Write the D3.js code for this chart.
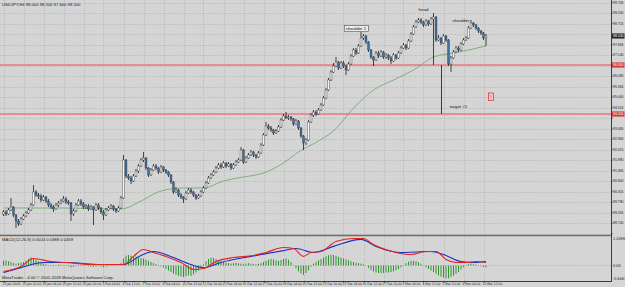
<!DOCTYPE html>
<html><head><meta charset="utf-8">
<script src="https://cdn.jsdelivr.net/npm/d3@7"></script>
<style>
html,body{margin:0;padding:0;background:#d5d5d5;overflow:hidden;}
svg{display:block;}
text{font-family:"Liberation Sans","DejaVu Sans",sans-serif;}
.narrow{font-family:"Liberation Sans Narrow","DejaVu Sans Condensed","Liberation Sans",sans-serif;}
</style></head><body>
<svg id="c" width="625" height="287"></svg>
<script>
// ---------------- DATA ----------------
const symbolTitle = "USDJPY,H4";
const closes = [
 89.30,89.20,89.40,89.55,89.15,88.85,88.70,88.95,89.10,89.25,
 89.40,89.65,90.30,90.15,90.10,89.90,90.05,89.85,89.65,89.55,
 89.45,89.65,89.75,89.85,89.95,89.80,89.75,89.20,89.35,89.65,
 89.85,89.70,89.55,89.60,89.45,89.55,89.40,89.65,89.50,89.30,
 89.15,89.40,89.50,89.60,89.45,89.35,89.50,90.00,91.90,91.10,
 91.00,90.85,91.10,91.35,91.60,91.90,92.00,91.50,91.15,91.40,
 91.60,91.50,91.30,91.55,91.40,91.30,91.15,90.80,90.30,90.40,
 90.15,90.05,89.95,90.25,90.40,90.30,90.15,90.00,90.10,90.30,
 90.50,90.75,91.00,91.15,91.30,91.50,91.65,91.55,91.75,91.60,
 91.70,91.50,91.65,91.80,91.90,92.40,91.80,92.00,92.15,92.30,
 92.15,92.05,92.25,92.65,93.15,93.60,93.50,93.40,93.25,93.35,
 93.55,93.90,94.10,94.00,94.05,93.95,93.70,93.85,93.50,93.10,
 92.75,92.90,93.80,94.15,94.30,94.20,94.40,94.65,95.00,95.40,
 95.90,96.30,96.60,96.80,96.50,96.75,96.60,96.40,96.70,97.10,
 97.40,97.25,97.60,98.00,98.10,97.80,97.40,97.05,96.90,97.25,
 97.10,97.30,97.05,97.15,97.00,96.85,97.15,97.00,97.25,97.50,
 97.65,97.50,97.85,98.20,98.55,98.80,98.90,98.80,98.65,98.85,
 98.70,98.95,99.05,97.90,98.00,97.75,98.10,97.90,96.70,97.00,
 97.30,97.50,97.40,97.70,97.90,98.00,98.50,98.75,98.65,98.50,
 98.35,98.25,98.00,98.10];
const opens = [
 89.20,89.30,89.20,89.40,89.55,89.15,88.85,88.70,88.95,89.10,
 89.25,89.40,89.65,90.30,90.15,90.10,89.90,90.05,89.85,89.65,
 89.55,89.45,89.65,89.75,89.85,89.95,89.80,89.75,89.20,89.35,
 89.65,89.85,89.70,89.55,89.60,89.45,89.55,89.40,89.65,89.50,
 89.30,89.15,89.40,89.50,89.60,89.45,89.35,89.50,90.00,91.90,
 91.10,91.00,90.85,91.10,91.35,91.60,91.90,92.00,91.50,91.15,
 91.40,91.60,91.50,91.30,91.55,91.40,91.30,91.15,90.80,90.30,
 90.40,90.15,90.05,89.95,90.25,90.40,90.30,90.15,90.00,90.10,
 90.30,90.50,90.75,91.00,91.15,91.30,91.50,91.65,91.55,91.75,
 91.60,91.70,91.50,91.65,91.80,91.90,92.40,91.80,92.00,92.15,
 92.30,92.15,92.05,92.25,92.65,93.15,93.60,93.50,93.40,93.25,
 93.35,93.55,93.90,94.10,94.00,94.05,93.95,93.70,93.85,93.50,
 93.10,92.75,92.90,93.80,94.15,94.30,94.20,94.40,94.65,95.00,
 95.40,95.90,96.30,96.60,96.80,96.50,96.75,96.60,96.40,96.70,
 97.10,97.40,97.25,97.60,98.00,98.10,97.80,97.40,97.05,96.90,
 97.25,97.10,97.30,97.05,97.15,97.00,96.85,97.15,97.00,97.25,
 97.50,97.65,97.50,97.85,98.20,98.55,98.80,98.90,98.80,98.65,
 98.85,98.70,98.95,99.05,97.90,98.00,97.75,98.10,97.90,96.70,
 97.00,97.30,97.50,97.40,97.70,97.90,98.00,98.50,98.75,98.65,
 98.50,98.35,98.25,98.00];
const highs = [
 89.40,89.40,89.50,90.00,89.60,89.20,88.95,89.05,89.20,89.35,
 89.50,89.75,90.65,90.40,90.25,90.20,90.15,90.10,89.95,89.75,
 89.65,89.75,89.85,89.95,90.10,90.05,89.90,89.80,89.45,89.75,
 89.95,89.95,89.80,89.70,89.70,89.65,89.60,89.75,89.75,89.55,
 89.40,89.50,89.60,89.70,89.65,89.50,89.60,90.10,92.15,91.95,
 91.20,91.10,91.20,91.45,91.70,92.00,92.30,92.05,91.55,91.50,
 91.70,91.70,91.55,91.65,91.60,91.45,91.35,91.20,90.85,90.55,
 90.45,90.25,90.10,90.35,90.50,90.50,90.35,90.20,90.20,90.40,
 90.60,90.85,91.10,91.25,91.40,91.60,91.75,91.75,91.85,91.80,
 91.80,91.75,91.75,91.90,92.00,92.55,92.45,92.10,92.25,92.40,
 92.35,92.20,92.35,92.75,93.25,93.80,93.70,93.60,93.45,93.45,
 93.65,94.00,94.20,94.30,94.15,94.10,94.00,93.95,93.90,93.55,
 93.15,93.00,93.90,94.25,94.40,94.40,94.50,94.75,95.10,95.50,
 96.00,96.40,96.75,97.05,96.85,96.85,96.85,96.65,96.80,97.20,
 97.50,97.50,97.70,98.30,98.20,98.15,97.85,97.45,97.10,97.35,
 97.35,97.40,97.35,97.25,97.20,97.10,97.25,97.20,97.35,97.60,
 97.75,97.70,97.95,98.30,98.65,98.90,99.00,99.00,98.85,98.95,
 98.90,99.05,99.25,99.10,98.15,98.05,98.20,98.15,97.95,97.10,
 97.40,97.60,97.60,97.80,98.00,98.10,98.60,98.90,98.80,98.70,
 98.55,98.40,98.30,98.20];
const lows = [
 89.10,89.10,89.15,89.35,89.05,88.50,88.60,88.65,88.90,89.05,
 89.20,89.35,89.60,90.05,89.95,89.80,89.85,89.75,89.55,89.45,
 89.30,89.40,89.55,89.70,89.80,89.70,89.65,88.85,89.10,89.30,
 89.60,89.60,89.45,89.45,89.35,89.40,88.65,89.35,89.40,89.20,
 88.90,89.10,89.35,89.45,89.35,89.25,89.30,89.45,89.95,91.00,
 90.90,90.70,90.80,91.05,91.25,91.55,91.80,91.40,91.05,91.10,
 91.35,91.40,91.20,91.25,91.30,91.20,91.05,90.70,90.20,90.25,
 90.05,89.95,89.75,89.90,90.20,90.20,90.05,89.90,89.95,90.05,
 90.25,90.45,90.70,90.95,91.10,91.25,91.45,91.45,91.50,91.50,
 91.55,91.40,91.45,91.60,91.75,91.85,91.70,91.75,91.95,92.10,
 92.05,91.95,92.00,92.20,92.60,93.10,93.40,93.30,93.15,93.20,
 93.30,93.50,93.85,93.95,93.90,93.85,93.60,93.65,93.40,93.00,
 92.40,92.65,92.85,93.75,94.05,94.10,94.15,94.35,94.60,94.95,
 95.35,95.85,96.25,96.55,96.40,96.45,96.50,96.15,96.35,96.65,
 97.05,97.15,97.20,97.55,97.90,97.70,97.30,96.95,96.60,96.85,
 97.00,97.05,96.95,96.95,96.90,96.70,96.80,96.90,96.95,97.20,
 97.45,97.40,97.45,97.80,98.15,98.50,98.75,98.70,98.55,98.60,
 98.60,98.65,96.65,97.80,97.85,97.65,97.70,97.80,96.60,96.30,
 96.95,97.25,97.30,97.35,97.65,97.85,97.95,98.45,98.55,98.40,
 98.25,98.15,97.90,97.60];
// moving average : bar index / value
const maBars   = [0,24,47,55,63,72,80,88,96,104,112,118,126,132,140,148,156,164,172,180,186,193];
const maValues = [89.50,89.50,89.45,89.85,90.35,90.50,90.50,90.85,91.05,91.25,91.75,92.30,92.85,93.35,94.50,95.40,95.90,96.40,97.05,97.25,97.40,97.60];
// MACD histogram, one per bar
const macdHist = [
 0.20,0.22,0.18,0.15, 0.10,0.08,0.10,0.12,0.15, 0.20,0.28,0.35,0.32,0.25,
 0.18,0.12,0.08,0.05,0.02,-0.02,
 -0.03,0.02,0.04,0.03,0.01,-0.02,-0.04,-0.08,-0.06,-0.03,0.02,
 0.03,0.02,-0.02,-0.03,-0.05,-0.06,-0.04,-0.02,-0.05,-0.07,-0.05,-0.03,-0.02,0.01,0.02,0.03,
 0.10,0.30,0.42,0.45,0.42,0.40,0.38,0.35,0.32,0.30,
 0.25,0.20,0.15,0.10,0.06,0.02,-0.03,
 -0.08,-0.15,-0.22,-0.28,-0.35,-0.40,-0.44,-0.48,-0.50,-0.46,-0.42,-0.45,-0.38,-0.30,-0.22,
 -0.10,0.05,0.18,0.28,0.34,0.32,0.28,0.22,
 0.18,0.15,0.12,0.10,0.08,0.10,0.12,0.10,0.08,0.06,0.08,0.10,0.08,0.06,0.05,0.07,0.10,
 0.15,0.20,0.25,0.28,0.26,0.22,0.20,0.24,0.28,0.30,0.25,
 0.15,0.02,-0.12,-0.25,-0.35,-0.40,-0.32,-0.20,
 -0.05,0.08,0.15,0.22,0.28,0.34,0.40,0.44,0.46,
 0.45,0.42,0.38,0.34,0.30,0.26,0.22,0.18,0.15,
 0.12,0.10,0.08,0.05,0.00,
 -0.10,-0.20,-0.26,-0.30,-0.32,-0.33,-0.32,-0.30,-0.30,-0.28,-0.25,-0.20,-0.15,-0.08,
 0.02,0.10,0.16,0.20,0.20,0.18,0.14,0.08,
 0.00,-0.08,-0.15,-0.22,-0.28,-0.35,-0.42,-0.48,-0.52,-0.55,-0.55,-0.50,-0.44,-0.36,-0.28,-0.18,-0.08,
 0.02,0.06,0.08,0.06,0.04,0.01,-0.03,-0.06,-0.08];
// MACD lines: bar index / value
const redBars  = [0,7,12,19,25,36,48,52,56,60,65,71,76,80,85,92,100,105,112,116,120,123,127,133,140,144,148,157,163,169,173,177,181,185,189,193];
const redVals  = [-0.26,-0.04,0.30,0.17,0.13,0.04,0.04,0.39,0.69,0.56,0.39,0.13,-0.17,-0.13,0.17,0.34,0.43,0.56,0.77,0.73,0.39,0.56,0.60,1.03,1.16,1.16,0.90,0.56,0.47,0.60,0.60,0.26,0.13,0.13,0.17,0.13];
const blueBars = [0,7,16,25,39,48,55,60,68,75,80,87,99,112,117,124,132,143,149,159,171,176,183,188,193];
const blueVals = [-0.30,-0.09,0.13,0.13,0.04,0.04,0.43,0.60,0.34,0.04,-0.09,0.13,0.39,0.64,0.73,0.56,0.82,1.12,0.82,0.56,0.60,0.47,0.17,0.13,0.17];
// levels
const necklinePrice = 96.65;
const targetPrice = 94.20;
// tick labels
const priceTicks = [99.765,99.240,98.715,98.190,97.665,97.140,96.615,96.090,95.565,95.040,94.515,93.990,93.465,92.940,92.415,91.890,91.365,90.840,90.315,89.790,89.265,88.740,88.215];
const timeLabels = ["23 Jan 2009","26 Jan 20:00","28 Jan 04:00","29 Jan 12:00","30 Jan 20:00","3 Feb 04:00","4 Feb 12:00","5 Feb 20:00","9 Feb 04:00","10 Feb 12:00","11 Feb 20:00","13 Feb 04:00","16 Feb 12:00","17 Feb 20:00","19 Feb 04:00","20 Feb 12:00","23 Feb 20:00","25 Feb 04:00","26 Feb 12:00","27 Feb 20:00","3 Mar 04:00","4 Mar 12:00","5 Mar 20:00","9 Mar 04:00","10 Mar 12:00"];
const barsPerLabel = 8;
const macdTicks = [1.2099, 0.00, -0.6267];
const macdTitle = "MACD(12,26,9) 0.0024 0.0388 0.0459";
const copyright = "MetaTrader - 4.00 \u00a9 2001-2009 MetaQuotes Software Corp.";
// annotations: text, bar, price
const annotations = [
 {text:"shoulder 1", bar:141, price:98.45, boxed:true},
 {text:"head", bar:168, price:99.42, boxed:false},
 {text:"shoulder", bar:183, price:98.88, boxed:false},
 {text:"target #1", bar:182, price:94.58, boxed:false}
];
const targetBar = 175;
const alertBar = 194, alertPrice = 95.05;

// ---------------- DRAW ----------------
const svg = d3.select('#c');
const plotR = 611;
const x = d3.scaleLinear().domain([0,193]).range([3.5,486]);
const y = d3.scaleLinear().domain([88.15,99.9]).range([235,0]);
const ym = d3.scaleLinear().domain([-0.687,1.245]).range([281.5,236.5]);

svg.append('rect').attr('width',625).attr('height',287).attr('fill','#d5d5d5');

// grid
const grid = svg.append('g').attr('stroke','#a4a4a4').attr('stroke-width',0.6).attr('stroke-dasharray','1,1.5');
grid.selectAll('line.h').data(priceTicks).join('line')
  .attr('x1',0).attr('x2',plotR).attr('y1',d=>Math.round(y(d))+0.5).attr('y2',d=>Math.round(y(d))+0.5);
grid.selectAll('line.v').data(timeLabels).join('line')
  .attr('x1',(d,i)=>Math.round(x(i*barsPerLabel))+0.5).attr('x2',(d,i)=>Math.round(x(i*barsPerLabel))+0.5)
  .attr('y1',0).attr('y2',281);
grid.append('line').attr('x1',0).attr('x2',plotR).attr('y1',Math.round(ym(0))+0.5).attr('y2',Math.round(ym(0))+0.5);

// horizontal level lines
[necklinePrice,targetPrice].forEach(p=>{
  svg.append('line').attr('x1',0).attr('x2',plotR).attr('y1',y(p)).attr('y2',y(p))
    .attr('stroke','#eec0c0').attr('stroke-width',2.2);
  svg.append('line').attr('x1',0).attr('x2',plotR).attr('y1',y(p)).attr('y2',y(p))
    .attr('stroke','#d04848').attr('stroke-width',0.8);
});

// MA
svg.append('path').datum(maBars.map((b,i)=>[b,maValues[i]]))
  .attr('fill','none').attr('stroke','#6aa56a').attr('stroke-width',0.8)
  .attr('d',d3.line().x(d=>x(d[0])).y(d=>y(d[1])).curve(d3.curveMonotoneX));

// candles
const idx = d3.range(closes.length);
const cg = svg.append('g');
cg.selectAll('line').data(idx).join('line')
  .attr('x1',i=>x(i)).attr('x2',i=>x(i))
  .attr('y1',i=>y(highs[i])).attr('y2',i=>y(lows[i]))
  .attr('stroke','#1e1e1e').attr('stroke-width',0.8);
cg.selectAll('rect').data(idx).join('rect')
  .attr('x',i=>x(i)-0.95).attr('width',1.9)
  .attr('y',i=>y(Math.max(opens[i],closes[i])))
  .attr('height',i=>Math.max(0.8,Math.abs(y(opens[i])-y(closes[i]))))
  .attr('fill',i=>closes[i]>=opens[i]?'#f4f4f4':'#3b6fa8')
  .attr('stroke','#3a3a3a').attr('stroke-width',0.4);

// target measure line
svg.append('line').attr('x1',Math.round(x(targetBar))+0.5).attr('x2',Math.round(x(targetBar))+0.5)
  .attr('y1',y(necklinePrice)).attr('y2',y(targetPrice)).attr('stroke','#2a2a2a').attr('stroke-width',0.9);

// annotations
annotations.forEach(a=>{
  const t = svg.append('text').attr('x',x(a.bar)).attr('y',y(a.price)).attr('text-anchor','middle')
    .attr('dominant-baseline','middle').attr('font-size',4.4).attr('fill','#111').text(a.text);
  if(a.boxed){
    const bb = t.node().getBBox();
    svg.insert('rect','text').attr('x',bb.x-1.5).attr('y',bb.y-0.5).attr('width',bb.width+3).attr('height',bb.height+1)
      .attr('fill','#ececec').attr('stroke','#333').attr('stroke-width',0.5);
  }
});
// alert icon
svg.append('rect').attr('x',x(alertBar)).attr('y',y(alertPrice)-4).attr('width',5).attr('height',7.5)
  .attr('fill','#f2c8c8').attr('stroke','#d03030').attr('stroke-width',0.7);
svg.append('text').attr('x',x(alertBar)+2.5).attr('y',y(alertPrice)+1.6).attr('text-anchor','middle')
  .attr('font-size',4.5).attr('fill','#c02020').text('!');

// MACD histogram
const mg = svg.append('g');
mg.selectAll('rect').data(idx).join('rect')
  .attr('x',i=>x(i)-0.5).attr('width',1)
  .attr('y',i=>Math.min(ym(0),ym(macdHist[i])))
  .attr('height',i=>Math.max(0.3,Math.abs(ym(macdHist[i])-ym(0))))
  .attr('fill','#2f962f');
const mline = d3.line().x(d=>x(d[0])).y(d=>ym(d[1])).curve(d3.curveMonotoneX);
svg.append('path').datum(blueBars.map((b,i)=>[b,blueVals[i]])).attr('fill','none')
  .attr('stroke','#1c2fc8').attr('stroke-width',1.1).attr('d',mline);
svg.append('path').datum(redBars.map((b,i)=>[b,redVals[i]])).attr('fill','none')
  .attr('stroke','#e32222').attr('stroke-width',1.1).attr('d',mline);

// panel separators / borders
svg.append('line').attr('x1',0).attr('x2',plotR).attr('y1',235.5).attr('y2',235.5).attr('stroke','#6e6e6e').attr('stroke-width',1.6);
svg.append('line').attr('x1',0).attr('x2',plotR).attr('y1',281.5).attr('y2',281.5).attr('stroke','#3c3c3c').attr('stroke-width',1);
svg.append('line').attr('x1',plotR+0.5).attr('x2',plotR+0.5).attr('y1',0).attr('y2',282).attr('stroke','#3c3c3c').attr('stroke-width',1);

// price axis labels
const fs = 4.2;
const levelLabels = [[necklinePrice,'#d23c3c'],[targetPrice,'#d23c3c'],[closes[closes.length-1],'#2a2a2a']];
const shownTicks = priceTicks.filter(t=>levelLabels.every(([p])=>Math.abs(y(p)-y(t))>5.5) && y(t)<232);
svg.append('g').selectAll('text').data(shownTicks).join('text')
  .attr('x',613).attr('y',d=>y(d)).attr('dominant-baseline','middle')
  .attr('font-size',fs).attr('fill','#1a1a1a').attr('textLength',10.5).attr('lengthAdjust','spacingAndGlyphs').text(d=>d.toFixed(3));
svg.append('g').selectAll('line').data(priceTicks).join('line')
  .attr('x1',plotR).attr('x2',plotR+2).attr('y1',d=>y(d)).attr('y2',d=>y(d)).attr('stroke','#3c3c3c').attr('stroke-width',0.6);
// level labels
levelLabels.forEach(([p,col])=>{
  svg.append('rect').attr('x',plotR+1).attr('y',y(p)-2.6).attr('width',12.5).attr('height',5.2).attr('fill',col);
  svg.append('text').attr('x',613).attr('y',y(p)).attr('dominant-baseline','middle')
    .attr('font-size',fs).attr('fill','#ffffff').attr('textLength',10.5).attr('lengthAdjust','spacingAndGlyphs').text(p.toFixed(3));
});
// macd axis labels
svg.append('g').selectAll('text').data(macdTicks).join('text')
  .attr('class','narrow')
  .attr('x',613).attr('y',d=>Math.min(278.5,Math.max(239,ym(d)))).attr('dominant-baseline','middle')
  .attr('font-size',3.8).attr('fill','#1a1a1a')
  .text(d=>d===0?'0.00':d.toFixed(4));

// time axis
const tg = svg.append('g');
tg.selectAll('line').data(timeLabels).join('line')
  .attr('x1',(d,i)=>Math.round(x(i*barsPerLabel))+0.5).attr('x2',(d,i)=>Math.round(x(i*barsPerLabel))+0.5)
  .attr('y1',281.5).attr('y2',283).attr('stroke','#3c3c3c').attr('stroke-width',0.6);
tg.selectAll('text').data(timeLabels).join('text')
  .attr('class','narrow')
  .attr('x',(d,i)=>x(i*barsPerLabel)-1).attr('y',284.6).attr('dominant-baseline','middle')
  .attr('font-size',3.3).attr('fill','#1a1a1a').text(d=>d);

// titles
const n = closes.length-1;
svg.append('text').attr('x',2).attr('y',4.5).attr('dominant-baseline','middle').attr('font-size',fs).attr('fill','#1a1a1a')
  .text(`${symbolTitle}  ${opens[n].toFixed(3)} ${highs[n].toFixed(3)} ${lows[n].toFixed(3)} ${closes[n].toFixed(3)}`);
svg.append('text').attr('x',2).attr('y',239.5).attr('dominant-baseline','middle').attr('font-size',fs).attr('fill','#1a1a1a').text(macdTitle);
svg.append('text').attr('x',2).attr('y',278).attr('dominant-baseline','middle').attr('font-size',fs).attr('fill','#1a1a1a').text(copyright);
</script>
</body></html>
